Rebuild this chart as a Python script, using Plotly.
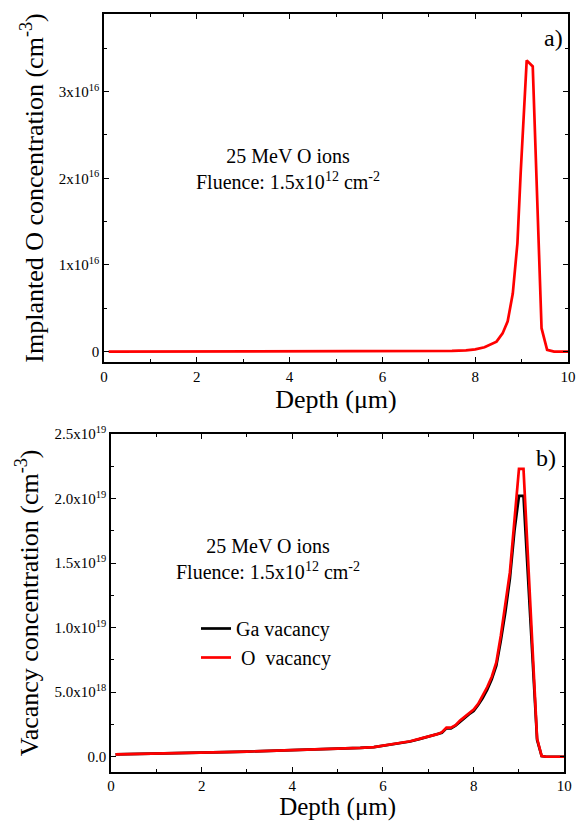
import numpy as np
import plotly.graph_objects as go

# ---- Panel a): implanted O profile ----
depth_a = [0.1, 1.0, 2.0, 3.0, 4.0, 5.0, 6.0, 7.0, 7.5, 7.8, 8.0, 8.2, 8.35, 8.46,
           8.59, 8.70, 8.81, 8.91, 8.98, 9.11, 9.24, 9.43, 9.55, 9.7, 10.0]
o_implanted = [0.0, 0.0, 0.0, 0.0, 0.0, 0.0, 0.002, 0.004, 0.008, 0.015, 0.025, 0.05,
               0.085, 0.115, 0.21, 0.35, 0.67, 1.25, 2.06, 3.36, 3.29, 0.27, 0.02,
               0.0, 0.0]  # x1e16 cm^-3

# ---- Panel b): vacancy profiles ----
depth_b = [0.1, 0.5, 1.0, 1.5, 2.0, 2.5, 3.0, 3.5, 4.0, 4.5, 5.0, 5.5, 5.8, 6.0,
           6.2, 6.4, 6.6, 6.8, 7.0, 7.2, 7.3, 7.4, 7.5, 7.6, 7.7, 7.8, 7.9, 8.0,
           8.1, 8.2, 8.3, 8.4, 8.5, 8.6, 8.7, 8.8, 8.9, 9.0, 9.1, 9.4, 9.5, 9.6,
           9.8, 10.0]
ga_vacancy = [0.18, 0.22, 0.26, 0.29, 0.33, 0.36, 0.40, 0.45, 0.51, 0.55, 0.62,
              0.68, 0.75, 0.85, 0.94, 1.03, 1.18, 1.36, 1.54, 1.72, 1.86, 2.2,
              2.2, 2.4, 2.72, 3.0, 3.3, 3.55, 4.0, 4.55, 5.2, 6.0, 7.05, 9.0,
              11.2, 13.8, 17.5, 20.2, 20.2, 1.3, 0.05, 0.0, 0.0, 0.0]  # x1e18
o_vacancy = [0.18, 0.22, 0.26, 0.29, 0.33, 0.36, 0.40, 0.45, 0.51, 0.55, 0.62,
             0.68, 0.75, 0.86, 0.95, 1.04, 1.20, 1.38, 1.56, 1.75, 1.90, 2.25,
             2.25, 2.45, 2.80, 3.10, 3.40, 3.65, 4.10, 4.70, 5.40, 6.20, 7.30,
             9.40, 11.7, 14.3, 18.3, 22.3, 22.3, 1.4, 0.05, 0.0, 0.0, 0.0]  # x1e18

ticks_a = [0, 1e16, 2e16, 3e16]
ticklabels_a = ["0", "1x10<sup>16</sup>", "2x10<sup>16</sup>", "3x10<sup>16</sup>"]
ticks_b = [0, 5e18, 1.0e19, 1.5e19, 2.0e19, 2.5e19]
ticklabels_b = ["0.0", "5.0x10<sup>18</sup>", "1.0x10<sup>19</sup>",
                "1.5x10<sup>19</sup>", "2.0x10<sup>19</sup>", "2.5x10<sup>19</sup>"]

W, H = 576, 821
SERIF = "Liberation Serif"
RED = "#ff0000"

fig = go.Figure()

fig.add_trace(go.Scatter(
    x=depth_a, y=np.array(o_implanted) * 1e16, mode="lines",
    line=dict(color=RED, width=2.7), showlegend=False,
    xaxis="x", yaxis="y"))

fig.add_trace(go.Scatter(
    x=depth_b, y=np.array(ga_vacancy) * 1e18, mode="lines", name="Ga vacancy",
    line=dict(color="black", width=2.7), xaxis="x2", yaxis="y2"))
fig.add_trace(go.Scatter(
    x=depth_b, y=np.array(o_vacancy) * 1e18, mode="lines",
    name="&nbsp;O&nbsp; vacancy",
    line=dict(color=RED, width=2.7), xaxis="x2", yaxis="y2"))


def px_x(p):
    return p / W


def px_y(p):
    return 1 - p / H


axis_common = dict(
    showline=True, linecolor="black", linewidth=1.5, mirror="ticks",
    ticks="inside", ticklen=5, tickwidth=1.3, tickcolor="black",
    showgrid=False, zeroline=False, automargin=False,
    tickfont=dict(family=SERIF, size=15, color="black"),
)

minor_common = dict(ticks="inside", ticklen=3, tickwidth=1.2, tickcolor="black",
                    tickmode="linear", tick0=0)

xaxis_common = dict(
    axis_common, range=[0, 10], tickmode="linear", tick0=0, dtick=2,
    minor=dict(minor_common, dtick=1),
)

fig.update_layout(
    template="none",
    width=W, height=H,
    margin=dict(l=0, r=0, t=0, b=0, autoexpand=False),
    paper_bgcolor="white", plot_bgcolor="white",
    font=dict(family=SERIF, color="black"),
    xaxis=dict(xaxis_common, domain=[px_x(104), px_x(568)], anchor="y",
               title=dict(text="Depth (\u03bcm)",
                          font=dict(family=SERIF, size=26, color="black"),
                          standoff=5)),
    yaxis=dict(
        axis_common, domain=[px_y(362), px_y(14)], anchor="x",
        range=[-0.12e16, 3.895e16], tickmode="array",
        tickvals=ticks_a, ticktext=ticklabels_a,
        minor=dict(minor_common, dtick=0.5e16),
        title=dict(text="Implanted O concentration (cm<sup>-3</sup>)",
                   font=dict(family=SERIF, size=26, color="black"), standoff=8),
    ),
    xaxis2=dict(xaxis_common, domain=[px_x(111), px_x(564.3)], anchor="y2",
                title=dict(text="Depth (\u03bcm)",
                           font=dict(family=SERIF, size=25, color="black"),
                           standoff=7)),
    yaxis2=dict(
        axis_common, domain=[px_y(771.7), px_y(434)], anchor="x2",
        range=[-0.116e19, 2.5e19], tickmode="array",
        tickvals=ticks_b, ticktext=ticklabels_b,
        minor=dict(minor_common, dtick=2.5e18),
        title=dict(text="Vacancy concentration (cm<sup>-3</sup>)",
                   font=dict(family=SERIF, size=26, color="black"), standoff=8),
    ),
    showlegend=True,
    legend=dict(
        x=px_x(196), y=px_y(609), xanchor="left", yanchor="top",
        bgcolor="rgba(0,0,0,0)", borderwidth=0,
        font=dict(family=SERIF, size=20, color="black"),
        tracegroupgap=0,
    ),
    annotations=[
        dict(text="25 MeV O ions<br>Fluence: 1.5x10<sup>12</sup> cm<sup>-2</sup>",
             xref="paper", yref="paper", x=px_x(288), y=px_y(169),
             xanchor="center", yanchor="middle", showarrow=False, align="center",
             font=dict(family=SERIF, size=20, color="black")),
        dict(text="25 MeV O ions<br>Fluence: 1.5x10<sup>12</sup> cm<sup>-2</sup>",
             xref="paper", yref="paper", x=px_x(268), y=px_y(559),
             xanchor="center", yanchor="middle", showarrow=False, align="center",
             font=dict(family=SERIF, size=20, color="black")),
        dict(text="a)", xref="paper", yref="paper", x=px_x(553), y=px_y(38),
             xanchor="center", yanchor="middle", showarrow=False,
             font=dict(family=SERIF, size=24, color="black")),
        dict(text="b)", xref="paper", yref="paper", x=px_x(546), y=px_y(458),
             xanchor="center", yanchor="middle", showarrow=False,
             font=dict(family=SERIF, size=24, color="black")),
    ],
)

fig.write_html("out.html")
